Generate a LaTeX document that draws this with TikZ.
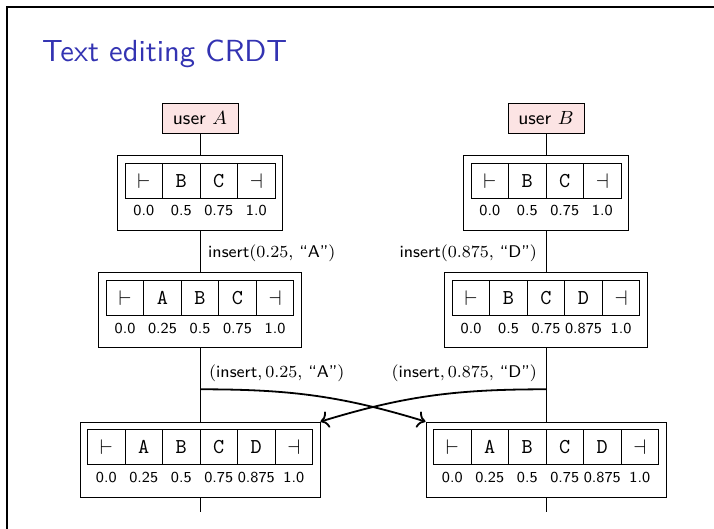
\RequirePackage{fix-cm}
\documentclass[tikz,border=0pt]{standalone}
\usepackage{fontspec}
\newfontfamily\titlefont{lmsans10-regular.otf}
\usetikzlibrary{arrows.meta}
\definecolor{titleblue}{RGB}{51,51,178}
\definecolor{userpink}{RGB}{252,228,228}
\newcommand\up[1]{\scalebox{2.118}{#1}}
\newcommand\crdtstate[6]{% #1 name, #2 centre x, #3 top y, #4 cells, #5 contents, #6 numbers
  \node[outerbox, minimum width={#4*37.5+15}, anchor=north] (#1) at (#2,#3) {};
  \foreach \c [count=\i] in {#5} {
    \node[cellbox] (#1c\i) at ({#2+(\i-0.5-#4/2)*37.5}, {#3+25.35}) {\up{\c}};
  }
  \foreach \v [count=\i] in {#6} {
    \node[numlbl] (#1n\i) at ({#2+(\i-0.5-#4/2)*37.5}, {#3+60.7}) {\up{\v}};
  }
}
\begin{document}
\begin{tikzpicture}[x=1pt,y=-1pt,
  thinline/.style={line width=0.9pt},
  userbox/.style={draw, thinline, fill=userpink, minimum width=76, minimum height=30, inner sep=0pt,
    font=\sffamily\fontsize{9}{11}\selectfont},
  outerbox/.style={draw, thinline, fill=white, minimum height=75, inner sep=0pt},
  cellbox/.style={draw, thinline, minimum width=37.5, minimum height=35.3, inner sep=0pt,
    font=\ttfamily\fontsize{10}{12}\selectfont},
  numlbl/.style={anchor=base, inner sep=0pt, font=\sffamily\fontsize{7.2}{8.6}\selectfont},
  oplbl/.style={inner sep=0pt, font=\sffamily\fontsize{8}{9.5}\selectfont},
  msgarrow/.style={-{To[length=8pt,width=17pt]}, line width=1.8pt}]
\useasboundingbox (0,0) rectangle (714,529);
% frame
\draw[line width=1.2pt] (7,529) -- (7,7) -- (714,7);
% title
\node[anchor=base west, inner sep=0pt, text=titleblue, font=\titlefont\fontsize{30.5}{36}\selectfont] (title) at (42,62) {Text editing CRDT};
% users
\node[userbox] (uA) at (200,118.3) {\up{user $A$}};
\node[userbox] (uB) at (546,118.3) {\up{user $B$}};
% states
\crdtstate{A1}{200}{155.3}{4}{$\vdash$,B,C,$\dashv$}{0.0,0.5,0.75,1.0}
\crdtstate{B1}{546}{155.3}{4}{$\vdash$,B,C,$\dashv$}{0.0,0.5,0.75,1.0}
\crdtstate{A2}{200}{272.3}{5}{$\vdash$,A,B,C,$\dashv$}{0.0,0.25,0.5,0.75,1.0}
\crdtstate{B2}{546}{272.3}{5}{$\vdash$,B,C,D,$\dashv$}{0.0,0.5,0.75,0.875,1.0}
\crdtstate{A3}{200}{421.6}{6}{$\vdash$,A,B,C,D,$\dashv$}{0.0,0.25,0.5,0.75,0.875,1.0}
\crdtstate{B3}{546}{421.6}{6}{$\vdash$,A,B,C,D,$\dashv$}{0.0,0.25,0.5,0.75,0.875,1.0}
% timelines
\coordinate (endA) at (200,512);
\coordinate (endB) at (546,512);
\coordinate (sA) at (200,389.3);
\coordinate (sB) at (546,389.3);
\draw[thinline] (uA) -- (A1);
\draw[thinline] (A1) -- (A2);
\draw[thinline] (A2) -- (A3);
\draw[thinline] (A3) -- (endA);
\draw[thinline] (uB) -- (B1);
\draw[thinline] (B1) -- (B2);
\draw[thinline] (B2) -- (B3);
\draw[thinline] (B3) -- (endB);
% operation labels
\node[oplbl, anchor=base west] (opA) at (208,257.3) {\up{insert$(0.25,$ “A”$)$}};
\node[oplbl, anchor=base east] (opB) at (537,257.3) {\up{insert$(0.875,$ “D”$)$}};
\node[oplbl, anchor=base west] (msgA) at (209,377.3) {\up{$(\mbox{insert}, 0.25,$ “A”$)$}};
\node[oplbl, anchor=base east] (msgB) at (537,377.3) {\up{$(\mbox{insert}, 0.875,$ “D”$)$}};
% messages
\draw[msgarrow] (sA) to[out=0, in=163] (B3.north west);
\draw[msgarrow] (sB) to[out=180, in=17] (A3.north east);
\end{tikzpicture}
\end{document}
